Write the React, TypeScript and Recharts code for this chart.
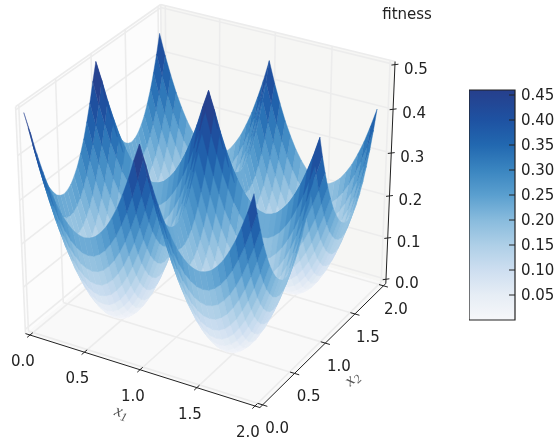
import { Bar, BarChart, Scatter, ScatterChart, XAxis, YAxis } from "recharts";

// mesh coordinates along both axes
const meshCoords = [
  0, 0.05, 0.1, 0.15, 0.2, 0.25, 0.3, 0.35, 0.4, 0.45, 0.5, 0.55, 0.6, 0.65, 0.7, 0.75, 0.8, 0.85, 0.9, 0.95,
  1, 1.05, 1.1, 1.15, 1.2, 1.25, 1.3, 1.35, 1.4, 1.45, 1.5, 1.55, 1.6, 1.65, 1.7, 1.75, 1.8, 1.85, 1.9, 1.95,
];

// fitness rows, from the ridge (r0) to the bowl centre (r10)
const r0 = [0.492, 0.453, 0.41, 0.373, 0.34, 0.313, 0.29, 0.273, 0.26, 0.253, 0.25, 0.253, 0.26, 0.273, 0.29, 0.313, 0.34, 0.373, 0.41, 0.453, 0.492, 0.453, 0.41, 0.373, 0.34, 0.313, 0.29, 0.273, 0.26, 0.253, 0.25, 0.253, 0.26, 0.273, 0.29, 0.313, 0.34, 0.373, 0.41, 0.453];
const r1 = [0.453, 0.405, 0.363, 0.325, 0.293, 0.265, 0.243, 0.225, 0.213, 0.205, 0.203, 0.205, 0.213, 0.225, 0.243, 0.265, 0.293, 0.325, 0.363, 0.405, 0.453, 0.405, 0.363, 0.325, 0.293, 0.265, 0.243, 0.225, 0.213, 0.205, 0.203, 0.205, 0.213, 0.225, 0.243, 0.265, 0.293, 0.325, 0.363, 0.405];
const r2 = [0.41, 0.363, 0.32, 0.283, 0.25, 0.223, 0.2, 0.183, 0.17, 0.163, 0.16, 0.163, 0.17, 0.183, 0.2, 0.223, 0.25, 0.283, 0.32, 0.363, 0.41, 0.363, 0.32, 0.283, 0.25, 0.223, 0.2, 0.183, 0.17, 0.163, 0.16, 0.163, 0.17, 0.183, 0.2, 0.223, 0.25, 0.283, 0.32, 0.363];
const r3 = [0.373, 0.325, 0.283, 0.245, 0.213, 0.185, 0.163, 0.145, 0.133, 0.125, 0.123, 0.125, 0.133, 0.145, 0.163, 0.185, 0.213, 0.245, 0.283, 0.325, 0.373, 0.325, 0.283, 0.245, 0.213, 0.185, 0.163, 0.145, 0.133, 0.125, 0.123, 0.125, 0.133, 0.145, 0.163, 0.185, 0.213, 0.245, 0.283, 0.325];
const r4 = [0.34, 0.293, 0.25, 0.213, 0.18, 0.153, 0.13, 0.113, 0.1, 0.093, 0.09, 0.093, 0.1, 0.113, 0.13, 0.153, 0.18, 0.213, 0.25, 0.293, 0.34, 0.293, 0.25, 0.213, 0.18, 0.153, 0.13, 0.113, 0.1, 0.093, 0.09, 0.093, 0.1, 0.113, 0.13, 0.153, 0.18, 0.213, 0.25, 0.293];
const r5 = [0.313, 0.265, 0.223, 0.185, 0.153, 0.125, 0.103, 0.085, 0.073, 0.065, 0.063, 0.065, 0.073, 0.085, 0.103, 0.125, 0.153, 0.185, 0.223, 0.265, 0.313, 0.265, 0.223, 0.185, 0.153, 0.125, 0.103, 0.085, 0.073, 0.065, 0.063, 0.065, 0.073, 0.085, 0.103, 0.125, 0.153, 0.185, 0.223, 0.265];
const r6 = [0.29, 0.243, 0.2, 0.163, 0.13, 0.103, 0.08, 0.063, 0.05, 0.043, 0.04, 0.043, 0.05, 0.063, 0.08, 0.103, 0.13, 0.163, 0.2, 0.243, 0.29, 0.243, 0.2, 0.163, 0.13, 0.103, 0.08, 0.063, 0.05, 0.043, 0.04, 0.043, 0.05, 0.063, 0.08, 0.103, 0.13, 0.163, 0.2, 0.243];
const r7 = [0.273, 0.225, 0.183, 0.145, 0.113, 0.085, 0.063, 0.045, 0.033, 0.025, 0.023, 0.025, 0.033, 0.045, 0.063, 0.085, 0.113, 0.145, 0.183, 0.225, 0.273, 0.225, 0.183, 0.145, 0.113, 0.085, 0.063, 0.045, 0.033, 0.025, 0.023, 0.025, 0.033, 0.045, 0.063, 0.085, 0.113, 0.145, 0.183, 0.225];
const r8 = [0.26, 0.213, 0.17, 0.133, 0.1, 0.073, 0.05, 0.033, 0.02, 0.013, 0.01, 0.013, 0.02, 0.033, 0.05, 0.073, 0.1, 0.133, 0.17, 0.213, 0.26, 0.213, 0.17, 0.133, 0.1, 0.073, 0.05, 0.033, 0.02, 0.013, 0.01, 0.013, 0.02, 0.033, 0.05, 0.073, 0.1, 0.133, 0.17, 0.213];
const r9 = [0.253, 0.205, 0.163, 0.125, 0.093, 0.065, 0.043, 0.025, 0.013, 0.005, 0.003, 0.005, 0.013, 0.025, 0.043, 0.065, 0.093, 0.125, 0.163, 0.205, 0.253, 0.205, 0.163, 0.125, 0.093, 0.065, 0.043, 0.025, 0.013, 0.005, 0.003, 0.005, 0.013, 0.025, 0.043, 0.065, 0.093, 0.125, 0.163, 0.205];
const r10 = [0.25, 0.203, 0.16, 0.123, 0.09, 0.063, 0.04, 0.023, 0.01, 0.003, 0, 0.003, 0.01, 0.023, 0.04, 0.063, 0.09, 0.123, 0.16, 0.203, 0.25, 0.203, 0.16, 0.123, 0.09, 0.063, 0.04, 0.023, 0.01, 0.003, 0, 0.003, 0.01, 0.023, 0.04, 0.063, 0.09, 0.123, 0.16, 0.203];
const fitness = [
  r0, r1, r2, r3, r4, r5, r6, r7, r8, r9, r10, r9, r8, r7, r6, r5, r4, r3, r2, r1,
  r0, r1, r2, r3, r4, r5, r6, r7, r8, r9, r10, r9, r8, r7, r6, r5, r4, r3, r2, r1,
];

const x1Ticks = [0, 0.5, 1, 1.5, 2];
const x2Ticks = [0, 0.5, 1, 1.5, 2];
const zTicks = [0, 0.1, 0.2, 0.3, 0.4, 0.5];
const colorbarTicks = [0.05, 0.1, 0.15, 0.2, 0.25, 0.3, 0.35, 0.4, 0.45];

// colormap
const cmapValues = [0, 0.05, 0.1, 0.15, 0.2, 0.25, 0.3, 0.35, 0.4, 0.46];
const cmapColors = ["#f6f7fa", "#e6edf5", "#cddef0", "#aecfe7", "#88bbdd", "#5a9fcf", "#3a85c0", "#2268b0", "#1e52a2", "#263f8c"];

const TICK_FONT = "'DejaVu Sans'";

// panes stick out a little past the axis limits, as in mplot3d
const LO = -0.042;
const HI = 2.042;
const Z_LO = -0.0104;
const Z_HI = 0.507;

// default mplot3d view, elev 30 azim -60, fitted onto the picture
const project = (x1: number, x2: number, z: number) => {
  const qx = x1 / 2 - 0.5;
  const qy = x2 / 2 - 0.5;
  const qz = z / 0.5 - 0.5;
  const xv = 0.866 * qx + 0.5 * qy;
  const yv = -0.25 * qx + 0.433 * qy + 0.866 * qz;
  const d = 10 - (0.433 * qx - 0.75 * qy + 0.5 * qz);
  return { px: 30 + (xv / d + 0.06875) * 2597, py: 335 - (yv / d + 0.05468) * 2504, depth: d };
};

const hexToRgb = (hex: string) => [1, 3, 5].map((i) => parseInt(hex.slice(i, i + 2), 16));

const colorFor = (v: number) => {
  let i = 0;
  while (i < cmapValues.length - 2 && v > cmapValues[i + 1]) i++;
  const t = Math.min(1, Math.max(0, (v - cmapValues[i]) / (cmapValues[i + 1] - cmapValues[i])));
  const a = hexToRgb(cmapColors[i]);
  const b = hexToRgb(cmapColors[i + 1]);
  return `rgb(${a.map((c, k) => Math.round(c + (b[k] - c) * t)).join(",")})`;
};

// quads of the surface, far ones first
const quads: { corners: { px: number; py: number }[]; depth: number; fill: string }[] = [];
for (let i = 0; i < meshCoords.length - 1; i++) {
  for (let j = 0; j < meshCoords.length - 1; j++) {
    const corners = [
      project(meshCoords[i], meshCoords[j], fitness[i][j]),
      project(meshCoords[i + 1], meshCoords[j], fitness[i + 1][j]),
      project(meshCoords[i + 1], meshCoords[j + 1], fitness[i + 1][j + 1]),
      project(meshCoords[i], meshCoords[j + 1], fitness[i][j + 1]),
    ];
    const mean = (fitness[i][j] + fitness[i + 1][j] + fitness[i + 1][j + 1] + fitness[i][j + 1]) / 4;
    quads.push({
      corners,
      depth: corners.reduce((s, c) => s + c.depth, 0) / 4,
      fill: colorFor(mean),
    });
  }
}
quads.sort((a, b) => b.depth - a.depth);
const surfacePoints = quads.flatMap((q) => q.corners);

const panes = [
  { fill: "#f9f9f9", corners: [project(LO, LO, Z_LO), project(HI, LO, Z_LO), project(HI, HI, Z_LO), project(LO, HI, Z_LO)] },
  { fill: "#fcfcfc", corners: [project(LO, LO, Z_LO), project(LO, HI, Z_LO), project(LO, HI, Z_HI), project(LO, LO, Z_HI)] },
  { fill: "#f6f6f4", corners: [project(LO, HI, Z_LO), project(HI, HI, Z_LO), project(HI, HI, Z_HI), project(LO, HI, Z_HI)] },
];
const panePoints = panes.flatMap((p) => p.corners);

const gridPoints = [
  ...x1Ticks.flatMap((t) => [project(t, LO, Z_LO), project(t, HI, Z_LO), project(t, HI, Z_LO), project(t, HI, Z_HI)]),
  ...x2Ticks.flatMap((t) => [project(HI, t, Z_LO), project(LO, t, Z_LO), project(LO, t, Z_LO), project(LO, t, Z_HI)]),
  ...zTicks.flatMap((t) => [project(LO, LO, t), project(LO, HI, t), project(LO, HI, t), project(HI, HI, t)]),
  // outer edges of the panes
  project(LO, LO, Z_LO), project(LO, LO, Z_HI), project(LO, LO, Z_HI), project(LO, HI, Z_HI),
  project(LO, HI, Z_HI), project(HI, HI, Z_HI), project(LO, HI, Z_LO), project(LO, HI, Z_HI),
];

const axisPoints = [
  project(LO, LO, Z_LO), project(HI, LO, Z_LO),
  project(HI, LO, Z_LO), project(HI, HI, Z_LO),
  project(HI, HI, Z_LO), project(HI, HI, Z_HI),
  ...x1Ticks.flatMap((t) => [project(t, LO - 0.04, Z_LO), project(t, LO + 0.04, Z_LO)]),
  ...x2Ticks.flatMap((t) => [project(HI - 0.04, t, Z_LO), project(HI + 0.04, t, Z_LO)]),
  ...zTicks.flatMap((t) => [project(HI - 0.02, HI - 0.02, t), project(HI + 0.02, HI + 0.02, t)]),
];

const tickLabels = [
  ...x1Ticks.map((t) => ({ ...project(t, LO, Z_LO), text: t.toFixed(1), dx: -7, dy: 26 })),
  ...x2Ticks.map((t) => ({ ...project(HI, t, Z_LO), text: t.toFixed(1), dx: 14.5 - t, dy: 23 })),
  ...zTicks.map((t) => ({ ...project(HI, HI, t), text: t.toFixed(1), dx: 21, dy: 4 })),
];

const noMark = () => null;

const renderSurface = ({ points }: any) => (
  <g>
    {quads.map((q, i) => {
      const pts = points.slice(i * 4, i * 4 + 4).map((p: any) => `${p.x},${p.y}`).join(" ");
      return <polygon key={i} points={pts} fill={q.fill} stroke={q.fill} strokeWidth={0.4} strokeLinejoin="round" />;
    })}
  </g>
);

const renderPanes = ({ points }: any) => (
  <g>
    {panes.map((p, i) => (
      <polygon key={i} points={points.slice(i * 4, i * 4 + 4).map((q: any) => `${q.x},${q.y}`).join(" ")} fill={p.fill} />
    ))}
  </g>
);

const renderSegments = (stroke: string, width: number) => ({ points }: any) => {
  const segs = [];
  for (let i = 0; i + 1 < points.length; i += 2) {
    segs.push(
      <line key={i} x1={points[i].x} y1={points[i].y} x2={points[i + 1].x} y2={points[i + 1].y} stroke={stroke} strokeWidth={width} />
    );
  }
  return <g>{segs}</g>;
};

const TickText = ({ cx, cy, payload }: any) => (
  <text x={cx + payload.dx} y={cy + payload.dy} textAnchor="middle" dominantBaseline="central" fontFamily={TICK_FONT} fontSize={15} fill="#222">
    {payload.text}
  </text>
);

// recharts hands the tick its x 8px past the plot edge
const ColorbarTick = ({ x, y, payload }: any) => (
  <g>
    <line x1={x - 14} x2={x - 8} y1={y} y2={y} stroke="#222" strokeWidth={1} />
    <text x={x - 2} y={y} dominantBaseline="central" fontFamily={TICK_FONT} fontSize={15} fill="#222">
      {payload.value.toFixed(2)}
    </text>
  </g>
);

const AxisTitles = ({ cx, cy, payload }: any) => (
  <text
    x={cx + payload.dx}
    y={cy + payload.dy}
    textAnchor="middle"
    fontFamily={payload.font}
    fontStyle={payload.italic ? "italic" : "normal"}
    fontSize={payload.size}
    fill={payload.color}
    transform={`rotate(${payload.angle} ${cx + payload.dx} ${cy + payload.dy})`}
  >
    {payload.text}
    {payload.sub ? (
      <tspan dy={3} fontSize={payload.size * 0.7}>
        {payload.sub}
      </tspan>
    ) : null}
  </text>
);

const titles = [
  { ...project(1, LO, Z_LO), text: "x", sub: "1", dx: -20, dy: 47, angle: 18, italic: true, size: 17, font: "'Liberation Serif'", color: "#555" },
  { ...project(HI, 1, Z_LO), text: "x", sub: "2", dx: 30, dy: 39, angle: -43, italic: true, size: 17, font: "'Liberation Serif'", color: "#555" },
  { ...project(HI, HI, Z_HI), text: "fitness", sub: "", dx: 12, dy: -42, angle: 0, italic: false, size: 15, font: TICK_FONT, color: "#222" },
];

const colorbarData = [{ name: "fitness", top: 0.46 }];

const App = () => {
  return (
    <div style={{ position: "absolute", left: 0, top: 0, width: 560, height: 443, background: "#fff", filter: "blur(0.35px)" }}>
      <ScatterChart width={560} height={443} margin={{ top: 0, right: 0, bottom: 0, left: 0 }}>
        <XAxis type="number" dataKey="px" domain={[0, 560]} hide allowDataOverflow />
        <YAxis type="number" dataKey="py" domain={[0, 443]} reversed hide allowDataOverflow />
        <Scatter data={panePoints} shape={noMark} line={renderPanes} isAnimationActive={false} />
        <Scatter data={gridPoints} shape={noMark} line={renderSegments("#ececec", 1.6)} isAnimationActive={false} />
        <Scatter data={surfacePoints} shape={noMark} line={renderSurface} isAnimationActive={false} />
        <Scatter data={axisPoints} shape={noMark} line={renderSegments("#222", 1)} isAnimationActive={false} />
        <Scatter data={tickLabels} shape={TickText} isAnimationActive={false} />
        <Scatter data={titles} shape={AxisTitles} isAnimationActive={false} />
      </ScatterChart>
      <div style={{ position: "absolute", left: 469, top: 79, width: 91, height: 252 }}>
        <BarChart width={91} height={252} data={colorbarData} barCategoryGap={0} margin={{ top: 11, right: 0, bottom: 11, left: 0 }}>
          <defs>
            <linearGradient id="colorbarFill" x1="0" y1="1" x2="0" y2="0">
              {cmapValues.map((v, i) => (
                <stop key={v} offset={v / 0.46} stopColor={cmapColors[i]} />
              ))}
            </linearGradient>
          </defs>
          <XAxis dataKey="name" hide />
          <YAxis
            orientation="right"
            width={45}
            domain={[0, 0.46]}
            ticks={colorbarTicks}
            interval={0}
            axisLine={false}
            tickLine={false}
            tick={ColorbarTick}
          />
          <Bar dataKey="top" fill="url(#colorbarFill)" stroke="#222" strokeWidth={1.2} isAnimationActive={false} />
        </BarChart>
      </div>
    </div>
  );
};

export default App;
